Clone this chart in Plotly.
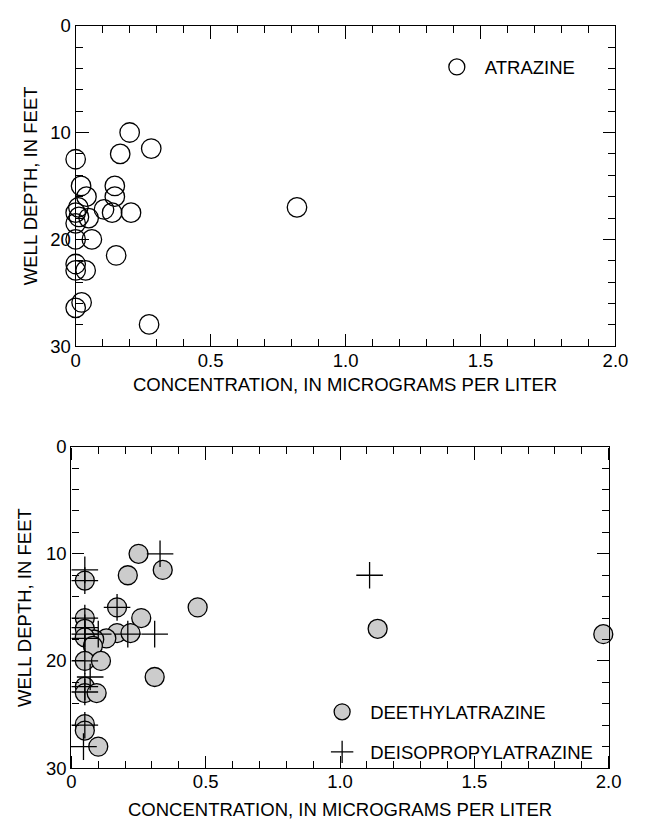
import plotly.graph_objects as go

# ---------------- data ----------------
atrazine_conc = [0.20, 0.28, 0.165, 0.0, 0.02, 0.145, 0.04, 0.145, 0.82, 0.105,
                 0.135, 0.205, 0.01, 0.0, 0.012, 0.0, 0.048, 0.0, 0.06, 0.15,
                 0.0, 0.0, 0.037, 0.022, 0.0, 0.272]
atrazine_depth = [10.0, 11.5, 12.0, 12.5, 15.0, 15.0, 16.0, 16.0, 17.0, 17.2,
                  17.5, 17.5, 17.0, 17.5, 17.9, 18.5, 18.0, 20.0, 20.0, 21.5,
                  22.3, 22.9, 22.9, 25.9, 26.4, 27.95]

deethyl_conc = [0.25, 0.34, 0.21, 0.05, 0.47, 0.17, 0.26, 0.05, 0.05, 0.17,
                0.22, 0.13, 0.085, 0.05, 0.08, 0.05, 0.11, 1.14, 1.98, 0.31,
                0.05, 0.05, 0.094, 0.05, 0.05, 0.10]
deethyl_depth = [10.0, 11.5, 12.0, 12.5, 15.0, 15.0, 16.0, 16.0, 17.0, 17.4,
                 17.4, 17.9, 18.0, 17.8, 18.6, 20.0, 20.0, 17.0, 17.5, 21.5,
                 22.4, 23.0, 23.0, 25.9, 26.5, 28.0]

deiso_conc = [0.33, 0.05, 0.05, 0.17, 0.05, 0.05, 0.05, 0.05, 0.10, 0.21,
              0.31, 1.11, 0.05, 0.07, 0.05, 0.05, 0.05, 0.045]
deiso_depth = [10.0, 11.5, 12.5, 15.0, 16.0, 16.9, 17.5, 17.9, 17.5, 17.5,
               17.5, 12.0, 20.0, 21.5, 22.4, 22.9, 26.0, 28.0]

x_range = [0, 2.0]
y_range = [30, 0]
x_major_step, x_minor_step = 0.5, 0.1
y_major_step, y_minor_step = 10, 2

x_title = "CONCENTRATION, IN MICROGRAMS PER LITER"
y_title = "WELL DEPTH, IN FEET"

# ---------------- figure ----------------
W, H = 645, 830
FONT = "Arial, 'Liberation Sans', Helvetica, sans-serif"
FS = 18.5
LW = 1.3


def px_x(p):
    return p / W


def px_y(p):
    return 1 - p / H


fig = go.Figure()

fig.add_trace(go.Scatter(
    x=atrazine_conc, y=atrazine_depth, mode="markers", name="ATRAZINE",
    xaxis="x", yaxis="y", legend="legend", cliponaxis=False,
    marker=dict(symbol="circle-open", size=19.5, color="black",
                line=dict(width=LW, color="black")),
))
fig.add_trace(go.Scatter(
    x=deethyl_conc, y=deethyl_depth, mode="markers", name="DEETHYLATRAZINE",
    xaxis="x2", yaxis="y2", legend="legend2", legendgroup="a", cliponaxis=False,
    marker=dict(symbol="circle", size=19, color="#cccccc",
                line=dict(width=LW, color="black")),
))
fig.add_trace(go.Scatter(
    x=deiso_conc, y=deiso_depth, mode="markers", name="DEISOPROPYLATRAZINE",
    xaxis="x2", yaxis="y2", legend="legend2", legendgroup="b", cliponaxis=False,
    marker=dict(symbol="cross-thin-open", size=19, color="black",
                line=dict(width=LW, color="black")),
))

# empty helper traces so the tick-only overlay axes are drawn
helper_pairs = [("x3", "y"), ("x5", "y"), ("x", "y3"), ("x", "y5"),
                ("x4", "y2"), ("x6", "y2"), ("x2", "y4"), ("x2", "y6")]
for xa, ya in helper_pairs:
    fig.add_trace(go.Scatter(x=[], y=[], xaxis=xa, yaxis=ya, showlegend=False,
                             hoverinfo="skip"))


def main_axis(domain, anchor, rng, major, minor, is_x):
    d = dict(
        domain=domain, anchor=anchor, range=rng, showgrid=False, zeroline=False,
        showline=True, linecolor="black", linewidth=LW, mirror="ticks",
        ticks="inside", ticklen=12, tickwidth=LW, tickcolor="black",
        tickmode="linear", tick0=0, dtick=major,
        minor=dict(dtick=minor, tick0=0, ticks="inside", ticklen=7,
                   tickwidth=LW, tickcolor="black", showgrid=False),
        tickfont=dict(family=FONT, size=FS, color="black"),
    )
    if is_x:
        d.update(tickformat=".1f", labelalias={"0.0": "0"}, ticklabelstandoff=-3)
    return d


def major_tick_axis(over, rng, major, side, position):
    # hidden axis placed on a border whose outward ticks point into the plot
    return dict(
        overlaying=over, anchor="free", position=position, side=side,
        range=rng, showgrid=False, zeroline=False, showline=False,
        showticklabels=False, ticks="outside", ticklen=12, tickwidth=LW,
        tickcolor="black", tickmode="linear", tick0=0, dtick=major,
    )


top_x_dom = [px_x(72.7), px_x(628)]
top_y_dom = [px_y(344), px_y(15)]
bot_x_dom = [px_x(68.3), px_x(621)]
bot_y_dom = [px_y(776.7), px_y(447)]

fig.update_layout(
    width=W, height=H,
    margin=dict(l=0, r=0, t=0, b=0),
    paper_bgcolor="white", plot_bgcolor="white",
    font=dict(family=FONT, size=FS, color="black"),
    xaxis=main_axis(top_x_dom, "y", x_range, x_major_step, x_minor_step, True),
    yaxis=main_axis(top_y_dom, "x", y_range, y_major_step, y_minor_step, False),
    xaxis2=main_axis(bot_x_dom, "y2", x_range, x_major_step, x_minor_step, True),
    yaxis2=main_axis(bot_y_dom, "x2", y_range, y_major_step, y_minor_step, False),
    # major ticks, top panel
    xaxis3=major_tick_axis("x", x_range, x_major_step, "top", top_y_dom[0]),
    xaxis5=major_tick_axis("x", x_range, x_major_step, "bottom", top_y_dom[1]),
    yaxis3=major_tick_axis("y", y_range, y_major_step, "right", top_x_dom[0]),
    yaxis5=major_tick_axis("y", y_range, y_major_step, "left", top_x_dom[1]),
    # major ticks, bottom panel
    xaxis4=major_tick_axis("x2", x_range, x_major_step, "top", bot_y_dom[0]),
    xaxis6=major_tick_axis("x2", x_range, x_major_step, "bottom", bot_y_dom[1]),
    yaxis4=major_tick_axis("y2", y_range, y_major_step, "right", bot_x_dom[0]),
    yaxis6=major_tick_axis("y2", y_range, y_major_step, "left", bot_x_dom[1]),
    legend=dict(x=px_x(436), y=px_y(38.4), xanchor="left", yanchor="top",
                bgcolor="rgba(0,0,0,0)", borderwidth=0, itemwidth=46,
                font=dict(family=FONT, size=FS, color="black")),
    legend2=dict(x=px_x(318), y=px_y(700), xanchor="left", yanchor="top",
                 bgcolor="rgba(0,0,0,0)", borderwidth=0, tracegroupgap=13,
                 itemwidth=46,
                 font=dict(family=FONT, size=FS, color="black")),
    showlegend=True,
    annotations=[
        dict(text=x_title, xref="paper", yref="paper", x=px_x(350), y=px_y(383.5),
             xanchor="center", yanchor="middle", showarrow=False,
             font=dict(family=FONT, size=FS, color="black")),
        dict(text=x_title, xref="paper", yref="paper", x=px_x(344.7), y=px_y(818.8),
             xanchor="center", yanchor="middle", showarrow=False,
             font=dict(family=FONT, size=FS, color="black")),
        dict(text=y_title, xref="paper", yref="paper", x=px_x(27), y=px_y(179.5),
             xanchor="center", yanchor="middle", showarrow=False, textangle=-90,
             font=dict(family=FONT, size=FS, color="black")),
        dict(text=y_title, xref="paper", yref="paper", x=px_x(20), y=px_y(612),
             xanchor="center", yanchor="middle", showarrow=False, textangle=-90,
             font=dict(family=FONT, size=FS, color="black")),
    ],
)

fig.write_html("out.html")
